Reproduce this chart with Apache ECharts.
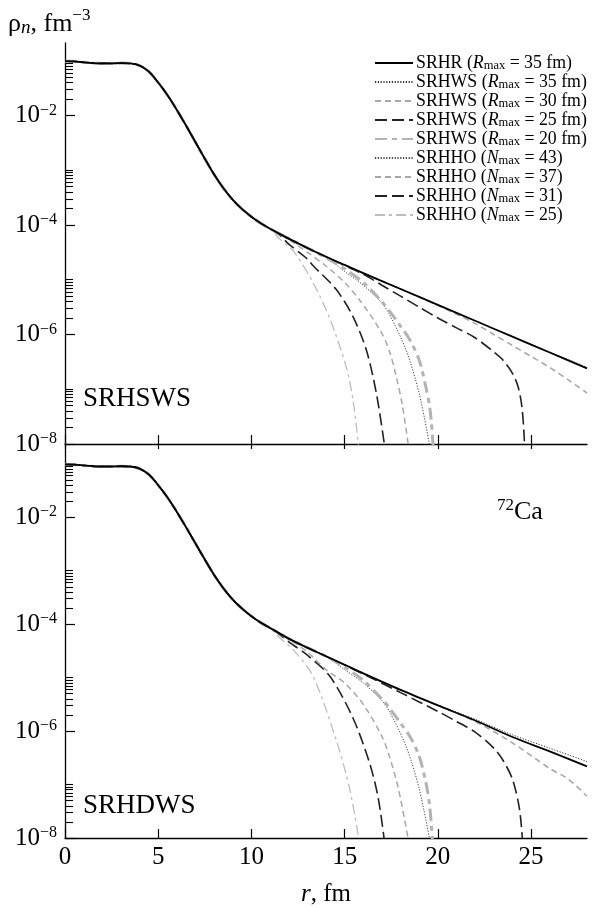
<!DOCTYPE html>
<html><head><meta charset="utf-8">
<script src="https://cdn.jsdelivr.net/npm/echarts@6/dist/echarts.min.js"></script>
<style>html,body{margin:0;padding:0;background:#fff}#c{width:593px;height:908px}</style>
</head><body><div id="c"></div>
<script>
// ---------- DATA ----------
const xTicks = [0, 5, 10, 15, 20, 25];
const yLabelTicks = [1e-8, 1e-6, 1e-4, 1e-2];

const seriesNames = [
  'SRHR (Rmax = 35 fm)', 'SRHWS (Rmax = 35 fm)', 'SRHWS (Rmax = 30 fm)',
  'SRHWS (Rmax = 25 fm)', 'SRHWS (Rmax = 20 fm)', 'SRHHO (Nmax = 43)',
  'SRHHO (Nmax = 37)', 'SRHHO (Nmax = 31)', 'SRHHO (Nmax = 25)'
];

// common inner part (identical for all calculations)
const coreR   = [0, 0.5, 1, 1.5, 2, 2.5, 3, 3.5, 4, 4.5, 5, 5.5, 6, 6.5, 7, 7.5, 8, 8.5, 9, 9.5, 10, 10.5, 11];
const coreRho = [9.77e-2, 9.66e-2, 9.33e-2, 9.02e-2, 8.91e-2, 8.91e-2, 9.02e-2, 8.91e-2, 8.13e-2, 6.31e-2,
                 3.98e-2, 2.34e-2, 1.26e-2, 6.46e-3, 3.24e-3, 1.62e-3, 8.32e-4, 4.68e-4, 2.88e-4, 1.95e-4,
                 1.41e-4, 1.07e-4, 8.51e-5];

// upper panel (SRHSWS) tails  [r, rho]
const topSRHR  = [[11.5,6.92e-5],[12,5.62e-5],[13,3.80e-5],[14,2.63e-5],[15,1.86e-5],[16,1.32e-5],[18,6.76e-6],[20,3.47e-6],[22,1.78e-6],[24,9.12e-7],[26,4.68e-7],[28,2.40e-7]];
const topWS35  = [[11.5,6.92e-5],[12,5.62e-5],[13,3.80e-5],[14,2.63e-5],[15,1.86e-5],[16,1.32e-5],[18,6.76e-6],[20,3.47e-6],[22,1.78e-6],[24,9.12e-7],[26,4.79e-7],[28,2.51e-7]];
const topWS30  = [[11.5,6.92e-5],[12,5.62e-5],[13,3.80e-5],[14,2.63e-5],[15,1.86e-5],[16,1.32e-5],[18,6.76e-6],[20,3.39e-6],[21,2.34e-6],[22,1.58e-6],[23,1.00e-6],[24,6.31e-7],[25,3.98e-7],[26,2.51e-7],[27,1.48e-7],[28,8.51e-8]];
const topWS25  = [[11.5,6.92e-5],[12,5.62e-5],[13,3.80e-5],[14,2.63e-5],[15,1.82e-5],[16,1.26e-5],[17,7.94e-6],[18,5.01e-6],[19,3.16e-6],[20,2.00e-6],[21,1.32e-6],[22,8.71e-7],[23,4.79e-7],[23.5,3.39e-7],[24,1.95e-7],[24.3,1.12e-7],[24.5,5.01e-8],[24.62,1.58e-8],[24.68,5.0e-9]];
const topWS20  = [[11.5,6.92e-5],[12,5.62e-5],[13,3.80e-5],[14,2.51e-5],[15,1.58e-5],[16,8.91e-6],[17,3.98e-6],[17.4,2.69e-6],[18,1.41e-6],[18.5,7.94e-7],[19,3.39e-7],[19.35,1.12e-7],[19.58,4.27e-8],[19.76,7.94e-9],[19.8,3.0e-9]];
const topHO43  = [[11.5,6.92e-5],[12,5.62e-5],[13,3.80e-5],[14,2.57e-5],[15,1.41e-5],[16,7.94e-6],[17,3.72e-6],[17.4,2.34e-6],[18.3,5.13e-7],[19,8.32e-8],[19.6,7.94e-9]];
const topHO37  = [[11.5,6.76e-5],[12,5.37e-5],[13,3.16e-5],[14,1.78e-5],[15,8.91e-6],[15.8,4.27e-6],[16.9,1.20e-6],[17.4,5.01e-7],[17.77,1.70e-7],[18.1,5.01e-8],[18.45,7.94e-9]];
const topHO31  = [[11.5,6.61e-5],[12,4.47e-5],[13,2.40e-5],[13.3,1.82e-5],[14.55,6.61e-6],[15.44,2.14e-6],[16.16,5.25e-7],[16.7,8.51e-8],[17.15,8.91e-9]];
const topHO25  = [[11.5,5.62e-5],[12.3,3.16e-5],[13.3,8.91e-6],[14.19,2.00e-6],[15.09,2.51e-7],[15.45,6.31e-8],[15.75,8.91e-9]];

// lower panel (SRHDWS) tails
const botSRHR  = [[11.5,6.76e-5],[12,5.37e-5],[13,3.63e-5],[14,2.51e-5],[15,1.74e-5],[16,1.20e-5],[18,5.89e-6],[20,3.02e-6],[22,1.58e-6],[24,7.76e-7],[26,4.17e-7],[28,2.19e-7]];
const botWS35  = [[11.5,6.76e-5],[12,5.37e-5],[13,3.63e-5],[14,2.51e-5],[15,1.74e-5],[16,1.20e-5],[18,5.89e-6],[20,3.09e-6],[22,1.66e-6],[24,8.51e-7],[26,4.79e-7],[28,2.69e-7]];
const botWS30  = [[11.5,6.76e-5],[12,5.37e-5],[13,3.63e-5],[14,2.51e-5],[15,1.74e-5],[16,1.20e-5],[18,5.89e-6],[20,3.02e-6],[22,1.51e-6],[24,6.03e-7],[26,2.00e-7],[27,1.26e-7],[28,6.03e-8]];
const botWS25  = [[11.5,6.76e-5],[12,5.37e-5],[13,3.63e-5],[14,2.51e-5],[16,1.17e-5],[18,5.25e-6],[20,2.34e-6],[21,1.51e-6],[22,9.55e-7],[23,4.79e-7],[23.5,2.82e-7],[24,1.26e-7],[24.37,3.63e-8],[24.55,7.94e-9],[24.6,3.0e-9]];
const botWS20  = [[11.5,6.76e-5],[12,5.37e-5],[13,3.63e-5],[14,2.51e-5],[15,1.58e-5],[16,8.91e-6],[17,3.98e-6],[17.4,2.69e-6],[18,1.41e-6],[18.5,7.94e-7],[19,3.39e-7],[19.35,1.12e-7],[19.55,4.27e-8],[19.72,7.94e-9],[19.76,3.0e-9]];
const botHO43  = [[11.5,6.76e-5],[12,5.37e-5],[13,3.63e-5],[14,2.51e-5],[15,1.41e-5],[16,7.94e-6],[17,3.72e-6],[17.4,2.34e-6],[18.3,5.13e-7],[19,8.32e-8],[19.6,7.94e-9]];
const botHO37  = [[11.5,6.76e-5],[12,5.25e-5],[13,3.02e-5],[14,1.41e-5],[15,7.94e-6],[16,3.16e-6],[17,7.94e-7],[17.4,3.39e-7],[17.9,7.94e-8],[18.45,7.94e-9]];
const botHO31  = [[11.5,6.46e-5],[12,4.68e-5],[13,2.63e-5],[14.2,1.07e-5],[15.44,1.78e-6],[16.34,2.51e-7],[16.8,5.62e-8],[17.15,7.94e-9]];
const botHO25  = [[11.5,5.62e-5],[12.3,3.16e-5],[13.3,1.07e-5],[14.55,6.76e-7],[15.27,8.32e-8],[15.8,7.94e-9]];

const topTails = [topSRHR, topWS35, topWS30, topWS25, topWS20, topHO43, topHO37, topHO31, topHO25];
const botTails = [botSRHR, botWS35, botWS30, botWS25, botWS20, botHO43, botHO37, botHO31, botHO25];

// ---------- STYLES ----------
const FONT = '"Liberation Serif", "Times New Roman", serif';
const lineStyles = [
  {color: '#000000', width: 1.8, type: 'solid'},
  {color: '#333333', width: 1.0, type: [1.2, 1.6]},
  {color: '#a8a8a8', width: 1.6, type: [6, 4]},
  {color: '#222222', width: 1.6, type: [12, 5]},
  {color: '#b3b3b3', width: 3.0, type: [12, 5, 5, 5]},
  {color: '#444444', width: 1.0, type: [1.2, 1.6]},
  {color: '#a8a8a8', width: 1.5, type: [6, 4]},
  {color: '#222222', width: 1.6, type: [12, 5]},
  {color: '#bdbdbd', width: 1.3, type: [10, 4, 3, 4]}
];
const drawOrder = [8, 7, 6, 5, 4, 3, 2, 1, 0];

// minor log ticks (2..9 x 10^d in every other decade) + odd decades
const yMinorTicks = [];
[-8, -6, -4, -2].forEach(function (d) {
  for (let k = 2; k <= 9; k++) yMinorTicks.push(k * Math.pow(10, d));
  yMinorTicks.push(Math.pow(10, d + 1));
});

function buildData(tail) {
  return coreR.map(function (r, i) { return [r, coreRho[i]]; }).concat(tail);
}

const grids = [
  {left: 65, top: 43, width: 522, height: 401},
  {left: 65, top: 444, width: 522, height: 404}
];
const yMax = [0.21, 0.235];

const labelRich = {
  b: {fontFamily: FONT, fontSize: 25, lineHeight: 26, color: '#000'},
  s: {fontFamily: FONT, fontSize: 16, lineHeight: 18, color: '#000', verticalAlign: 'top'}
};
function expFmt(v) {
  const e = Math.round(Math.log10(v));
  return '{b|10}{s|\u2212' + Math.abs(e) + '}';
}

const yAxes = [];
[0, 1].forEach(function (g) {
  yAxes.push({
    type: 'log', logBase: 10, gridIndex: g, min: 1e-8, max: yMax[g], position: 'left',
    axisLine: {show: true, onZero: false, lineStyle: {color: '#000', width: 1.3}},
    axisTick: {show: true, inside: true, length: 10, customValues: yLabelTicks, lineStyle: {color: '#000', width: 1.2}},
    axisLabel: {show: true, customValues: yLabelTicks, formatter: expFmt, rich: labelRich, margin: 8},
    splitLine: {show: false}, minorTick: {show: false}
  });
  yAxes.push({
    type: 'log', logBase: 10, gridIndex: g, min: 1e-8, max: yMax[g], position: 'left',
    axisLine: {show: false},
    axisTick: {show: true, inside: true, length: 8, customValues: yMinorTicks, lineStyle: {color: '#000', width: 1.1}},
    axisLabel: {show: false}, splitLine: {show: false}
  });
});

const xAxes = [
  {type: 'value', gridIndex: 0, min: 0, max: 28, position: 'bottom',
   axisLine: {onZero: false, lineStyle: {color: '#000', width: 1.3}},
   axisTick: {inside: true, length: 9, customValues: xTicks, lineStyle: {color: '#000', width: 1.2}},
   axisLabel: {show: false}, splitLine: {show: false}},
  {type: 'value', gridIndex: 1, min: 0, max: 28, position: 'bottom',
   axisLine: {onZero: false, lineStyle: {color: '#000', width: 1.3}},
   axisTick: {inside: true, length: 9, customValues: xTicks, lineStyle: {color: '#000', width: 1.2}},
   axisLabel: {customValues: xTicks, fontFamily: FONT, fontSize: 25, color: '#000', margin: 7},
   name: '{i|r}{t|, fm}', nameLocation: 'middle', nameGap: 44,
   nameTextStyle: {rich: {i: {fontFamily: FONT, fontSize: 25, fontStyle: 'italic', color: '#000'},
                          t: {fontFamily: FONT, fontSize: 25, color: '#000'}}},
   splitLine: {show: false}},
  {type: 'value', gridIndex: 1, min: 0, max: 28, position: 'top',
   axisLine: {show: false, onZero: false},
   axisTick: {inside: true, length: 5, customValues: xTicks, lineStyle: {color: '#000', width: 1.2}},
   axisLabel: {show: false}, splitLine: {show: false}}
];

const series = [];
[[topTails, 0, 0], [botTails, 1, 2]].forEach(function (cfg) {
  drawOrder.forEach(function (i) {
    series.push({
      type: 'line', name: seriesNames[i], xAxisIndex: cfg[1], yAxisIndex: cfg[2],
      data: buildData(cfg[0][i]), symbol: 'none', showSymbol: false,
      smooth: 0.3, clip: true,
      lineStyle: lineStyles[i], itemStyle: {color: lineStyles[i].color},
      emphasis: {disabled: true}, silent: true
    });
  });
});

function legendFmt(name) {
  const m = name.match(/^(\S+) \((R|N)max = (.+)\)$/);
  return '{t|' + m[1] + ' (}{i|' + m[2] + '}{sub|max}{t| = ' + m[3] + ')}';
}

const chart = echarts.init(document.getElementById('c'), null, {renderer: 'canvas'});
chart.setOption({
  animation: false,
  backgroundColor: '#fff',
  grid: grids,
  xAxis: xAxes,
  yAxis: yAxes,
  legend: {
    orient: 'vertical', left: 369, top: 49, itemWidth: 38, itemHeight: 10, itemGap: 1,
    data: seriesNames, selectedMode: false, formatter: legendFmt,
    itemStyle: {opacity: 0},
    textStyle: {fontFamily: FONT, fontSize: 17.8, color: '#000', padding: [0, 0, 0, -2],
      rich: {
        t: {fontFamily: FONT, fontSize: 17.8, lineHeight: 18, color: '#000'},
        i: {fontFamily: FONT, fontSize: 17.8, lineHeight: 18, fontStyle: 'italic', color: '#000'},
        sub: {fontFamily: FONT, fontSize: 12.5, lineHeight: 10, color: '#000', verticalAlign: 'bottom'}
      }}
  },
  graphic: [
    {type: 'text', left: 8, top: 7, silent: true,
     style: {text: '{a|\u03c1}{n|n}{a|, fm}{s|\u22123}', rich: {
       a: {fontFamily: FONT, fontSize: 26, lineHeight: 30, fill: '#000', verticalAlign: 'bottom'},
       n: {fontFamily: FONT, fontSize: 19, lineHeight: 22, fontStyle: 'italic', fill: '#000', verticalAlign: 'bottom'},
       s: {fontFamily: FONT, fontSize: 17, lineHeight: 19, fill: '#000', verticalAlign: 'top'}}}},
    {type: 'text', left: 83, top: 385, silent: true,
     style: {text: 'SRHSWS', font: '27px ' + FONT, fill: '#000'}},
    {type: 'text', left: 83, top: 792, silent: true,
     style: {text: 'SRHDWS', font: '27px ' + FONT, fill: '#000'}},
    {type: 'text', left: 497, top: 497, silent: true,
     style: {text: '{s|72}{a|Ca}', rich: {
       a: {fontFamily: FONT, fontSize: 26, lineHeight: 28, fill: '#000', verticalAlign: 'bottom'},
       s: {fontFamily: FONT, fontSize: 17, lineHeight: 19, fill: '#000', verticalAlign: 'top'}}}}
  ],
  series: series
});
</script>
</body></html>
